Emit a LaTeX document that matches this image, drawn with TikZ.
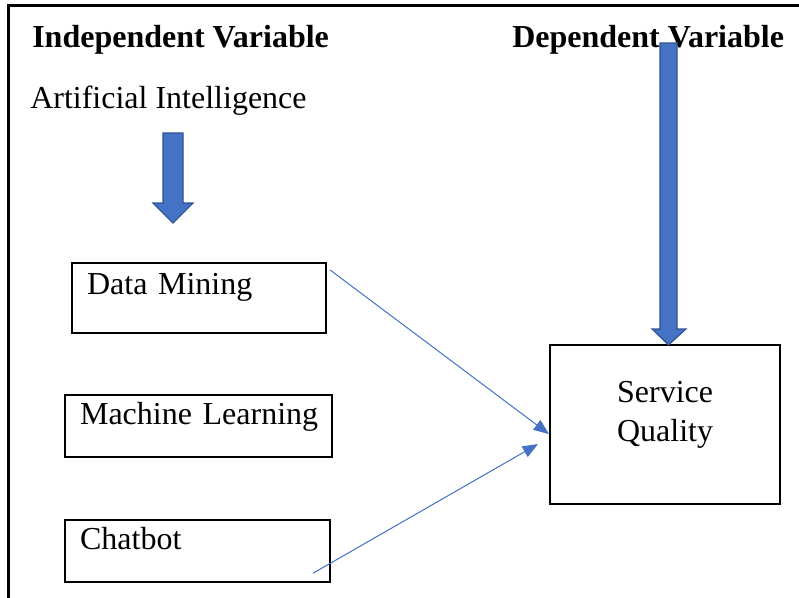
\documentclass[tikz,border=0pt]{standalone}
\usepackage{fontspec}
\setmainfont{Liberation Serif}
\usetikzlibrary{calc,arrows.meta,positioning}

\definecolor{arrowblue}{HTML}{4472C4}
\definecolor{arrowedge}{HTML}{2F528F}

\begin{document}
\fontsize{24pt}{29pt}\selectfont
\begin{tikzpicture}[x=0.75pt,y=-0.75pt,
  heading/.style={anchor=base west,inner sep=0pt},
  itembox/.style={draw,line width=1.6pt,anchor=north west,align=left,
    inner xsep=11.25pt,inner ysep=6pt},
  link/.style={-{Triangle[length=11.5pt,width=9pt]},draw=arrowblue,
    fill=arrowblue,line width=0.75pt},
  blockarrow/.style={fill=arrowblue,draw=arrowedge,line width=0.8pt}]
  \tikzstyle{frame} = [draw=black,line width=2pt]

  \useasboundingbox (0,0) rectangle (799,597);
  \begin{scope}
    \clip (0,0) rectangle (799,597);
    \draw[frame] (8.5,5.5) rectangle (830,630);
  \end{scope}

  \node[heading] (IV) at (32,47)  {\bf Independent Variable};
  \node[heading] (DV) at (512,47) {\bf Dependent Variable};
  \node[heading] (AI) at (30,108) {Artificial Intelligence};

  \node[itembox,text width=168pt,text height=17.25pt,text depth=23.25pt]
       (DM) at (71,262) {Data Mining};
  \node[itembox,text width=177.75pt,text height=15.75pt,text depth=18.75pt]
       (ML) at (64,394) {\mbox{Machine Learning}};
  \node[itembox,text width=176.25pt,text height=15.75pt,text depth=18.75pt]
       (CB) at (64,519) {Chatbot};
  \node[draw,line width=1.6pt,anchor=north west,align=center,
        text width=172.5pt,inner xsep=0pt,inner ysep=6pt,
        text height=37pt,text depth=70.25pt]
       (SQ) at (549,344) {Service\\Quality};

  % block arrows
  \draw[blockarrow] (163,133) -- (183,133) -- (183,203) -- (193,203)
    -- (173,223) -- (153,203) -- (163,203) -- cycle;
  \draw[blockarrow] (660,43) -- (677,43) -- (677,329) -- (686,329)
    -- (668.5,345) -- (652,329) -- (660,329) -- cycle;

  \coordinate (DMOUT) at ($(DM.north east)+(3,8)$);
  \coordinate (CBOUT) at ($(CB.south east)+(-18,-10)$);
  \coordinate (SQIN1) at ($(SQ.west)+(0,9.5)$);
  \coordinate (SQIN2) at ($(SQ.west)+(-11,19.5)$);

  \draw[link] (DMOUT) -- (SQIN1);
  \draw[link] (CBOUT) -- (SQIN2);
\end{tikzpicture}
\end{document}
